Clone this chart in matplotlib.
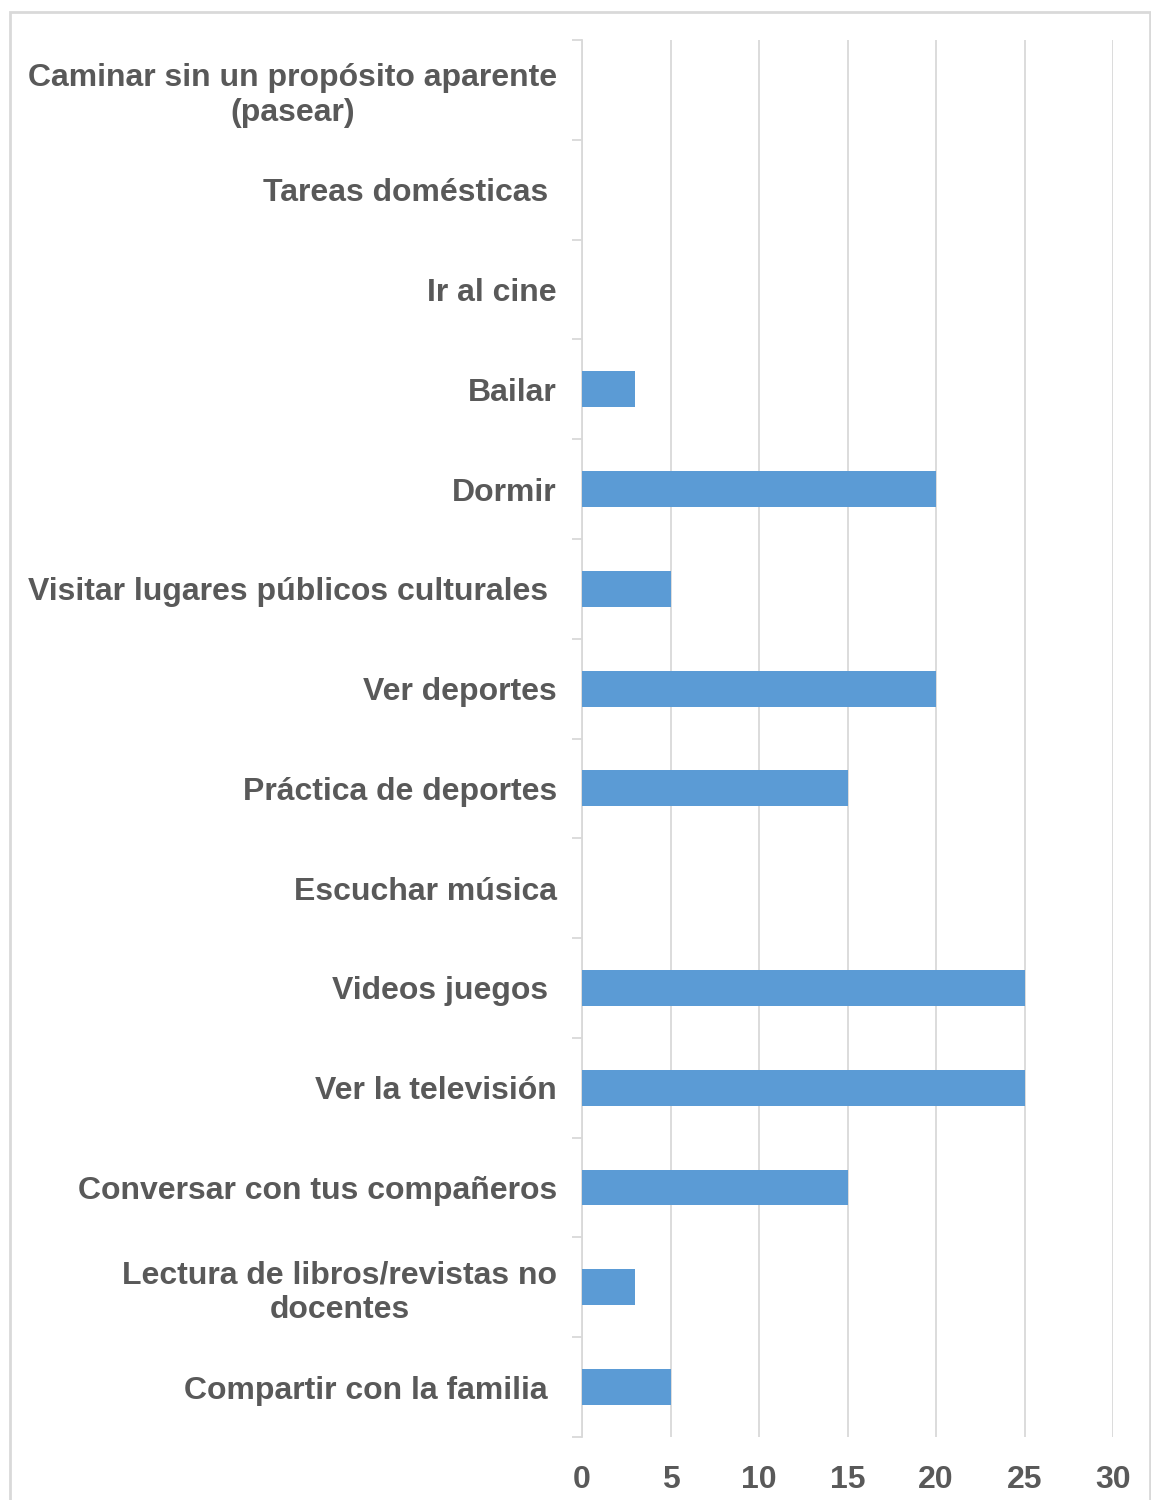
import numpy as np
import matplotlib

matplotlib.use("Agg")
import matplotlib.pyplot as plt
from matplotlib.patches import Rectangle

plt.rcParams["font.family"] = ["Liberation Sans", "DejaVu Sans"]

actividades = [
    "Caminar sin un propósito aparente\n(pasear)",
    "Tareas domésticas ",
    "Ir al cine",
    "Bailar",
    "Dormir",
    "Visitar lugares públicos culturales ",
    "Ver deportes",
    "Práctica de deportes",
    "Escuchar música",
    "Videos juegos ",
    "Ver la televisión",
    "Conversar con tus compañeros",
    "Lectura de libros/revistas no\ndocentes",
    "Compartir con la familia ",
]
valores = [0, 0, 0, 3, 20, 5, 20, 15, 0, 25, 25, 15, 3, 5]
ticks_x = [0, 5, 10, 15, 20, 25, 30]

TXT = "#595959"
GRID = "#d9d9d9"
BAR = "#5b9bd5"

fig = plt.figure(figsize=(11.51, 15.0), dpi=100)
ax = fig.add_axes([582 / 1151, 1 - 1437 / 1500, (1113 - 582) / 1151, (1437 - 40) / 1500])

# outer frame around the whole chart
fig.patches.append(Rectangle((10 / 1151, -0.01), (1150 - 10) / 1151, 1 - 12 / 1500 + 0.01,
                             transform=fig.transFigure, fill=False, ec=GRID, lw=2))

y = np.arange(len(actividades))
ax.barh(y, valores, height=0.36, color=BAR, lw=0, zorder=3)

ax.set_xlim(0, 30)
ax.set_ylim(len(actividades) - 0.5, -0.5)
ax.set_xticks(ticks_x)
ax.set_xticklabels([str(t) for t in ticks_x])
ax.set_yticks(y)
ax.set_yticklabels(actividades, multialignment="center", linespacing=1.2)
ax.set_yticks(np.arange(len(actividades) + 1) - 0.5, minor=True)

ax.grid(axis="x", color=GRID, lw=1.3, zorder=0)
for s in ["top", "right", "bottom"]:
    ax.spines[s].set_visible(False)
ax.spines["left"].set_color(GRID)
ax.spines["left"].set_linewidth(1.3)

ax.tick_params(axis="y", which="major", length=0, pad=18, labelsize=23, labelcolor=TXT)
ax.tick_params(axis="y", which="minor", length=7, color=GRID, width=1.3)
ax.tick_params(axis="x", length=0, pad=20, labelsize=23, labelcolor=TXT)
for lab in ax.get_yticklabels() + ax.get_xticklabels():
    lab.set_fontweight("bold")

fig.savefig("out.png", dpi=100)
